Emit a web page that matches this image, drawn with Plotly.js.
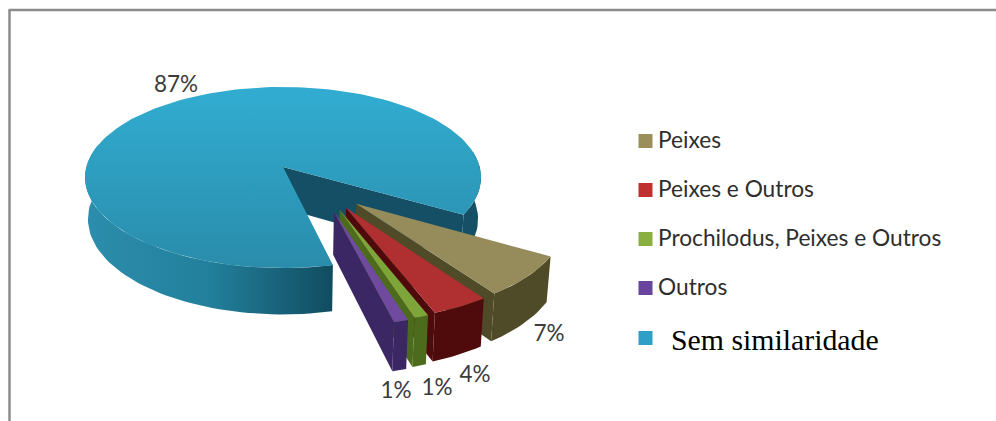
<!DOCTYPE html>
<html><head><meta charset="utf-8">
<script src="https://cdn.plot.ly/plotly-3.0.1.min.js"></script>
<style>html,body{margin:0;padding:0;background:#fff}#c{width:996px;height:421px}</style>
</head><body><div id="c"></div>
<script>
// Data
const categories = ["Peixes", "Peixes e Outros", "Prochilodus, Peixes e Outros", "Outros", "Sem similaridade"];
const values = [7, 4, 1, 1, 87];
const valueLabels = ["7%", "4%", "1%", "1%", "87%"];

// Styles
const topColors = ["#958b5b", "#b02f30", "#7da53a", "#6f4a9e"];
const wallColors = ["#4f4a27", "#4f0b0c", "#4d6b1c", "#3a2764"];
const legendColors = ["#9a8f5a", "#c0302f", "#8aae3f", "#6a45a0", "#2f9fc7"];
const explodeAngles = [42, 35, 31, 27.5];   // direction each slice is pulled out
const explodeAmount = 0.53;
const startAngle = 13;
const legendY = [141, 190, 239, 288, 338];
const labelPos = [[549, 335], [475, 376], [437, 389], [396, 392], [176, 86]];

// Perspective projection of the pie disc into the page
const cx = 283, cy = 167, Rx = 196.7, Ry = 89.3, k = 0.116, depth = 41, shrink = 0.985;
function proj(u, v) { const d = 1 - k * v; return [cx + Rx * u / d, cy + Ry * v / d]; }
function projLow(u, v) {
  const p = proj(u, v), d = 1 - k * v;
  return [cx + (p[0] - cx) * shrink, p[1] + depth / d];
}
const rad = a => a * Math.PI / 180;
function arc(a0, a1, du, dv, fn) {
  const n = Math.max(2, Math.ceil(Math.abs(a1 - a0) / 2)), pts = [];
  for (let i = 0; i <= n; i++) {
    const a = rad(a0 + (a1 - a0) * i / n);
    pts.push(fn(du + Math.sin(a), dv + Math.cos(a)));
  }
  return pts;
}
function poly(pts, fill, extra) {
  return Object.assign({
    type: "scatter", mode: "lines", x: pts.map(p => p[0]), y: pts.map(p => p[1]),
    fill: "toself", fillcolor: fill, line: { width: 0 }, hoverinfo: "skip"
  }, extra || {});
}
function grad(type, start, stop, c0, c1, c2) {
  return { fillgradient: { type, start, stop,
    colorscale: c2 ? [[0, c0], [0.5, c1], [1, c2]] : [[0, c0], [1, c1]] } };
}

const total = values.reduce((a, b) => a + b, 0);
const traces = [];

// Slice angles: going from the front towards the right: Outros, Prochilodus, Peixes e Outros, Peixes
const spans = [];
let cur = startAngle;
for (let i = 3; i >= 0; i--) {
  const sw = values[i] / total * 360;
  spans[i] = [cur, cur + sw];
  cur += sw;
}
const blueStart = cur, blueEnd = startAngle + 360;

// Main slice (Sem similaridade)
const rimT = (a, b) => arc(a, b, 0, 0, proj), rimB = (a, b) => arc(a, b, 0, 0, projLow);
traces.push(poly(rimT(blueStart, 100).concat(rimB(blueStart, 100).reverse()), "#155067"));
traces.push(poly(rimT(255, blueEnd).concat(rimB(255, blueEnd).reverse()), "#1f7590",
  grad("horizontal", 85, 333, "#2c8dac", "#22809c", "#114c60")));
const inner = [proj(0, 0), proj(Math.sin(rad(blueStart)), Math.cos(rad(blueStart))),
  projLow(Math.sin(rad(blueStart)), Math.cos(rad(blueStart))), projLow(0, 0)];
traces.push(poly(inner, "#144f66"));
traces.push(poly([proj(0, 0)].concat(rimT(blueStart, blueEnd)), "#2a9abc",
  grad("vertical", 87, 268, "#31add1", "#2a8cab")));

// Pulled-out slices, back to front
[0, 1, 2, 3].forEach(i => {
  const du = explodeAmount * Math.sin(rad(explodeAngles[i]));
  const dv = explodeAmount * Math.cos(rad(explodeAngles[i]));
  const [a0, a1] = spans[i];
  const hi = a => [du + Math.sin(rad(a)), dv + Math.cos(rad(a))];
  // side wall
  traces.push(poly([proj(du, dv), proj(...hi(a0)), projLow(...hi(a0)), projLow(du, dv)], wallColors[i]));
  // rim wall
  traces.push(poly(arc(a0, a1, du, dv, proj).concat(arc(a0, a1, du, dv, projLow).reverse()), wallColors[i]));
  // top
  traces.push(poly([proj(du, dv)].concat(arc(a0, a1, du, dv, proj)), topColors[i]));
});

// Value labels
traces.push({
  type: "scatter", mode: "text", hoverinfo: "skip",
  x: labelPos.map(p => p[0]), y: labelPos.map(p => p[1]), text: valueLabels,
  textposition: "middle center",
  textfont: { family: "Lato, 'Open Sans', sans-serif", size: 22.5, color: "#3c3c3c" }
});

// Legend
traces.push({
  type: "scatter", mode: "markers", hoverinfo: "skip",
  x: legendColors.map(() => 645.5), y: legendY,
  marker: { symbol: "square", size: 14, color: legendColors, line: { width: 0 } }
});
traces.push({
  type: "scatter", mode: "text", hoverinfo: "skip",
  x: categories.slice(0, 4).map(() => 658), y: legendY.slice(0, 4).map(v => v + 1),
  text: categories.slice(0, 4), textposition: "middle right",
  textfont: { family: "Lato, 'Open Sans', sans-serif", size: 22.7, color: "#2e2e2e" }
});
traces.push({
  type: "scatter", mode: "text", hoverinfo: "skip",
  x: [671], y: [343], text: [categories[4]], textposition: "middle right",
  textfont: { family: "'Liberation Serif', serif", size: 29.8, color: "#000" }
});

const cover = (x0, y0, x1, y1) => ({ type: "rect", xref: "x", yref: "y", x0, y0, x1, y1, layer: "above",
  fillcolor: "#fff", line: { width: 0 } });
const border = (x0, y0, x1, y1) => ({ type: "line", xref: "x", yref: "y", x0, y0, x1, y1, layer: "above",
  line: { color: "#8c8c8c", width: 2.5 } });

Plotly.newPlot("c", traces, {
  width: 996, height: 421, margin: { l: 0, r: 0, t: 0, b: 0 }, showlegend: false,
  paper_bgcolor: "#fff", plot_bgcolor: "#fff", hovermode: false,
  xaxis: { range: [0, 996], visible: false, fixedrange: true },
  yaxis: { range: [421, 0], visible: false, fixedrange: true },
  shapes: [
    cover(655, 296, 740, 310), cover(375, 398, 420, 412), cover(945, 225, 965, 252),
    border(9.5, 10, 9.5, 421), border(8.5, 10, 996, 10)
  ]
}, { displayModeBar: false, staticPlot: true });
</script></body></html>
